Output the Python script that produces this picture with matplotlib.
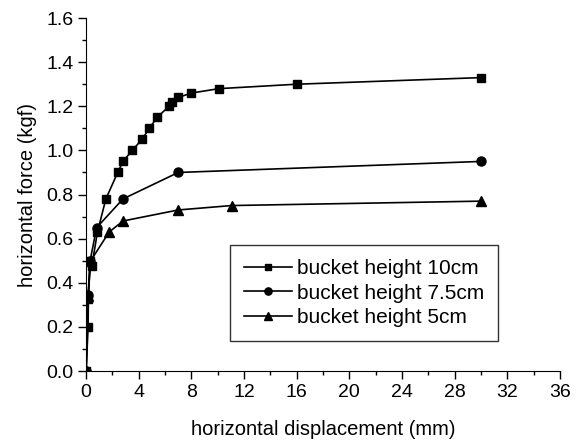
import matplotlib
matplotlib.use("Agg")
import matplotlib.pyplot as plt
from matplotlib.ticker import MultipleLocator

plt.rcParams["font.family"] = ["Liberation Sans", "DejaVu Sans"]

# bucket height 10cm
x_10 = [0.0, 0.15, 0.17, 0.3, 0.43, 0.86, 1.5, 2.4, 2.8, 3.5, 4.25, 4.8, 5.4, 6.3, 6.55, 7.0, 8.0, 10.1, 16.0, 30.0]
y_10 = [0.0, 0.2, 0.325, 0.5, 0.476, 0.63, 0.78, 0.90, 0.95, 1.0, 1.05, 1.10, 1.15, 1.20, 1.22, 1.24, 1.26, 1.28, 1.30, 1.33]

# bucket height 7.5cm
x_75 = [0.0, 0.15, 0.3, 0.8, 2.8, 7.0, 30.0]
y_75 = [0.0, 0.345, 0.50, 0.65, 0.78, 0.90, 0.95]

# bucket height 5cm
x_5 = [0.0, 0.15, 0.35, 1.75, 2.8, 7.0, 11.05, 30.0]
y_5 = [0.0, 0.34, 0.50, 0.63, 0.68, 0.73, 0.75, 0.77]

fig = plt.figure(figsize=(5.82, 4.42), dpi=100)
ax = fig.add_axes([0.148, 0.1606, 0.814, 0.7986])

ax.plot(x_10, y_10, c="black", lw=1.2, marker="s", ms=6, label="bucket height 10cm")
ax.plot(x_75, y_75, c="black", lw=1.2, marker="o", ms=6.5, label="bucket height 7.5cm")
ax.plot(x_5, y_5, c="black", lw=1.2, marker="^", ms=7, label="bucket height 5cm")

ax.set_xlim(0, 36)
ax.set_ylim(0, 1.6)
ax.xaxis.set_major_locator(MultipleLocator(4))
ax.xaxis.set_minor_locator(MultipleLocator(2))
ax.yaxis.set_major_locator(MultipleLocator(0.2))
ax.yaxis.set_minor_locator(MultipleLocator(0.1))
ax.yaxis.set_major_formatter(plt.FormatStrFormatter("%.1f"))

ax.spines["top"].set_visible(False)
ax.spines["right"].set_visible(False)
ax.tick_params(axis="both", which="major", direction="out", length=6, width=1, labelsize=14, pad=3)
ax.tick_params(axis="both", which="minor", direction="out", length=3, width=1)

ax.set_xlabel("horizontal displacement (mm)", fontsize=14.5, labelpad=14)
ax.set_ylabel("horizontal force (kgf)", fontsize=14.5, labelpad=7)

leg = ax.legend(loc="lower left", bbox_to_anchor=(0.304, 0.085), borderaxespad=0, fontsize=15,
                frameon=True, fancybox=False, edgecolor="black", handlelength=2.3,
                handletextpad=0.25, borderpad=0.65, labelspacing=0.28, markerscale=0.8)
leg.get_frame().set_linewidth(1.0)

fig.savefig("out.png", dpi=100)
